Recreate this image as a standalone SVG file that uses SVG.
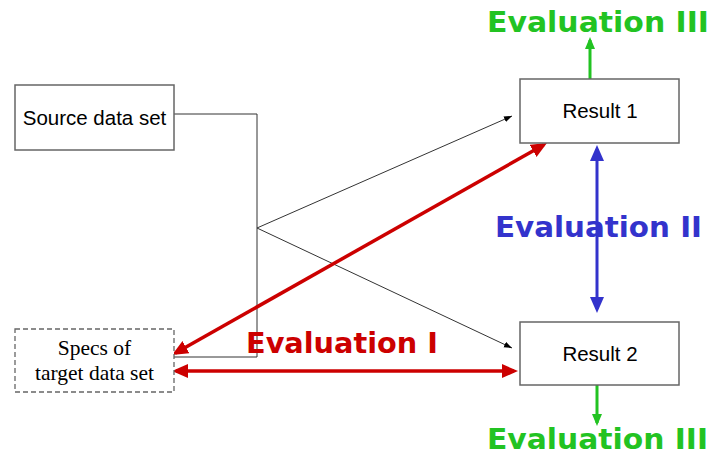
<svg xmlns="http://www.w3.org/2000/svg" width="712" height="456" viewBox="0 0 712 456">
<style>
.box{fill:#fff;stroke:#666;stroke-width:1.5}
.dash{fill:#fff;stroke:#666;stroke-width:1.3;stroke-dasharray:5,3}
.sans{font-family:"Liberation Sans",Arial,sans-serif;font-size:20.5px;fill:#000}
.serif{font-family:"Liberation Serif","Times New Roman",serif;font-size:21.5px;fill:#000}
.ev{font-family:"DejaVu Sans",Verdana,sans-serif;font-weight:bold;font-size:29px}
.thin{stroke:#333;stroke-width:1;fill:none}
.red{stroke:#cc0000;stroke-width:3.5;fill:none}
.blue{stroke:#3333cc;stroke-width:3;fill:none}
.green{stroke:#22c322;stroke-width:3;fill:none}
</style>
<defs>
<marker id="aRed" markerUnits="userSpaceOnUse" markerWidth="17" markerHeight="15" refX="12" refY="7" orient="auto-start-reverse"><path d="M0,0 L16,7 L0,14 z" fill="#cc0000"/></marker>
<marker id="aBlue" markerUnits="userSpaceOnUse" markerWidth="17" markerHeight="15" refX="12" refY="7" orient="auto-start-reverse"><path d="M0,0 L16,7 L0,14 z" fill="#3333cc"/></marker>
<marker id="aGreen" markerUnits="userSpaceOnUse" markerWidth="13" markerHeight="11" refX="9" refY="5" orient="auto"><path d="M0,0 L12,5 L0,10 z" fill="#22c322"/></marker>
<marker id="aBlack" markerUnits="userSpaceOnUse" markerWidth="9" markerHeight="7" refX="8" refY="3" orient="auto"><path d="M0,0 L8,3 L0,6 z" fill="#000"/></marker>
</defs>
<g id="connectors">
<polyline class="thin" points="174,114 257,114 257,357 174,357"/>
<line class="thin" x1="257" y1="228" x2="512" y2="116" marker-end="url(#aBlack)"/>
<line class="thin" x1="257" y1="228" x2="512" y2="348" marker-end="url(#aBlack)"/>
<line class="red" x1="175.5" y1="353" x2="543.5" y2="145" marker-start="url(#aRed)" marker-end="url(#aRed)"/>
<line class="red" x1="176" y1="371" x2="514" y2="371" marker-start="url(#aRed)" marker-end="url(#aRed)"/>
<line class="blue" x1="597" y1="149" x2="597" y2="309" marker-start="url(#aBlue)" marker-end="url(#aBlue)"/>
<line class="green" x1="590" y1="79" x2="590" y2="40" marker-end="url(#aGreen)"/>
<line class="green" x1="597" y1="385" x2="597" y2="423" marker-end="url(#aGreen)"/>
</g>
<g id="source">
<rect class="box" x="15" y="85" width="159" height="65"/>
<text class="sans" x="94.5" y="125" text-anchor="middle" font-size="21">Source data set</text>
</g>
<g id="specs">
<rect class="dash" x="15" y="329" width="159" height="63"/>
<text class="serif" x="94.5" y="355" text-anchor="middle">Specs of</text>
<text class="serif" x="94.5" y="380" text-anchor="middle">target data set</text>
</g>
<g id="result1">
<rect class="box" x="520" y="79" width="159" height="64"/>
<text class="sans" x="600" y="118" text-anchor="middle">Result 1</text>
</g>
<g id="result2">
<rect class="box" x="520" y="322" width="159" height="63"/>
<text class="sans" x="600" y="361" text-anchor="middle">Result 2</text>
</g>
<g id="labels">
<text class="ev" x="487" y="32" fill="#22c322" textLength="222" lengthAdjust="spacingAndGlyphs">Evaluation III</text>
<text class="ev" x="495" y="237" fill="#3333cc" textLength="207" lengthAdjust="spacingAndGlyphs">Evaluation II</text>
<text class="ev" x="246" y="353" fill="#cc0000" textLength="192" lengthAdjust="spacingAndGlyphs">Evaluation I</text>
<text class="ev" x="487" y="449" fill="#22c322" textLength="221" lengthAdjust="spacingAndGlyphs">Evaluation III</text>
</g>
</svg>
